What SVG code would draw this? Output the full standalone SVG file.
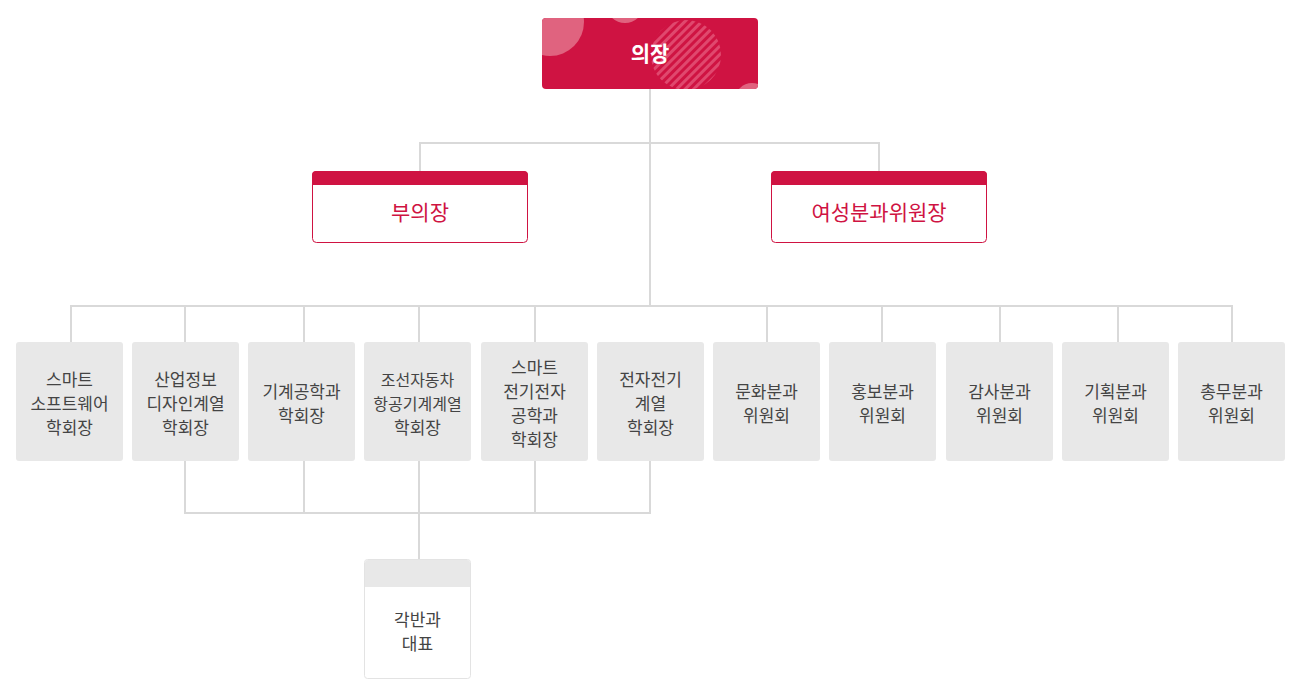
<svg xmlns="http://www.w3.org/2000/svg" width="1300" height="699" viewBox="0 0 1300 699">
<defs>
<style>
.ln{stroke:#d9d9d9;stroke-width:2;fill:none}
.bx{fill:#e8e8e8}
.t{font-family:"Noto Sans CJK KR","Noto Sans",sans-serif;font-size:17px;fill:#444;text-anchor:middle}
.r{font-family:"Noto Sans CJK KR","Noto Sans",sans-serif;font-size:21px;fill:#cf1342;text-anchor:middle}
</style>
<clipPath id="c"><rect x="542" y="18" width="216" height="71" rx="4"/></clipPath>
<pattern id="h" width="6" height="6" patternUnits="userSpaceOnUse" patternTransform="rotate(-45)"><rect width="6" height="3" fill="#e0486e"/></pattern>
</defs>
<g id="connectors" class="ln">
<path d="M650 89V306M420 171V143H879V171M71 342V306H1232V342M185 306V342M304 306V342M419 306V342M535 306V342M767 306V342M882 306V342M1000 306V342M1118 306V342"/>
<path d="M185 461V513H650V461M304 461V513M419 461V559M535 461V513"/>
</g>
<g id="chair">
<rect x="542" y="18" width="216" height="71" rx="4" fill="#cf1342"/>
<g clip-path="url(#c)">
<circle cx="550" cy="22" r="34" fill="#e0637f"/>
<circle cx="625" cy="4" r="16" fill="none" stroke="#e0637f" stroke-width="6"/>
<circle cx="686" cy="55" r="35" fill="url(#h)"/>
<circle cx="752" cy="100" r="17" fill="#e0637f"/>
</g>
<text x="650" y="61" class="t" style="fill:#fff;font-size:21px;font-weight:bold">의장</text>
</g>
<g id="vice">
<rect x="312.5" y="171.5" width="215" height="71" rx="4" fill="#fff" stroke="#cf1342"/>
<path d="M312 185V175a4 4 0 0 1 4-4h208a4 4 0 0 1 4 4v10z" fill="#cf1342"/>
<text x="420" y="220" class="r">부의장</text>
</g>
<g id="women">
<rect x="771.5" y="171.5" width="215" height="71" rx="4" fill="#fff" stroke="#cf1342"/>
<path d="M771 185V175a4 4 0 0 1 4-4h208a4 4 0 0 1 4 4v10z" fill="#cf1342"/>
<text x="879" y="220" class="r">여성분과위원장</text>
</g>
<g id="n1"><rect class="bx" x="16" y="342" width="107" height="119" rx="3"/><text class="t" x="69.5" y="386">스마트</text><text class="t" x="69.5" y="410">소프트웨어</text><text class="t" x="69.5" y="434">학회장</text></g>
<g id="n2"><rect class="bx" x="132" y="342" width="107" height="119" rx="3"/><text class="t" x="185.5" y="386">산업정보</text><text class="t" x="185.5" y="410">디자인계열</text><text class="t" x="185.5" y="434">학회장</text></g>
<g id="n3"><rect class="bx" x="248" y="342" width="107" height="119" rx="3"/><text class="t" x="301.5" y="398">기계공학과</text><text class="t" x="301.5" y="422">학회장</text></g>
<g id="n4"><rect class="bx" x="364" y="342" width="107" height="119" rx="3"/><text class="t" x="417.5" y="386" style="font-size:16px">조선자동차</text><text class="t" x="417.5" y="410" style="font-size:16px">항공기계계열</text><text class="t" x="417.5" y="434">학회장</text></g>
<g id="n5"><rect class="bx" x="481" y="342" width="107" height="119" rx="3"/><text class="t" x="534.5" y="374">스마트</text><text class="t" x="534.5" y="398">전기전자</text><text class="t" x="534.5" y="422">공학과</text><text class="t" x="534.5" y="446">학회장</text></g>
<g id="n6"><rect class="bx" x="597" y="342" width="107" height="119" rx="3"/><text class="t" x="650.5" y="386">전자전기</text><text class="t" x="650.5" y="410">계열</text><text class="t" x="650.5" y="434">학회장</text></g>
<g id="n7"><rect class="bx" x="713" y="342" width="107" height="119" rx="3"/><text class="t" x="766.5" y="398">문화분과</text><text class="t" x="766.5" y="422">위원회</text></g>
<g id="n8"><rect class="bx" x="829" y="342" width="107" height="119" rx="3"/><text class="t" x="882.5" y="398">홍보분과</text><text class="t" x="882.5" y="422">위원회</text></g>
<g id="n9"><rect class="bx" x="946" y="342" width="107" height="119" rx="3"/><text class="t" x="999.5" y="398">감사분과</text><text class="t" x="999.5" y="422">위원회</text></g>
<g id="n10"><rect class="bx" x="1062" y="342" width="107" height="119" rx="3"/><text class="t" x="1115.5" y="398">기획분과</text><text class="t" x="1115.5" y="422">위원회</text></g>
<g id="n11"><rect class="bx" x="1178" y="342" width="107" height="119" rx="3"/><text class="t" x="1231.5" y="398">총무분과</text><text class="t" x="1231.5" y="422">위원회</text></g>
<g id="rep">
<rect x="364.5" y="559.5" width="106" height="119" rx="3" fill="#fff" stroke="#e3e3e3"/>
<path d="M365 587V563a3 3 0 0 1 3-3h99a3 3 0 0 1 3 3v24z" fill="#e8e8e8"/>
<text class="t" x="417.5" y="626">각반과</text><text class="t" x="417.5" y="650">대표</text>
</g>
</svg>
